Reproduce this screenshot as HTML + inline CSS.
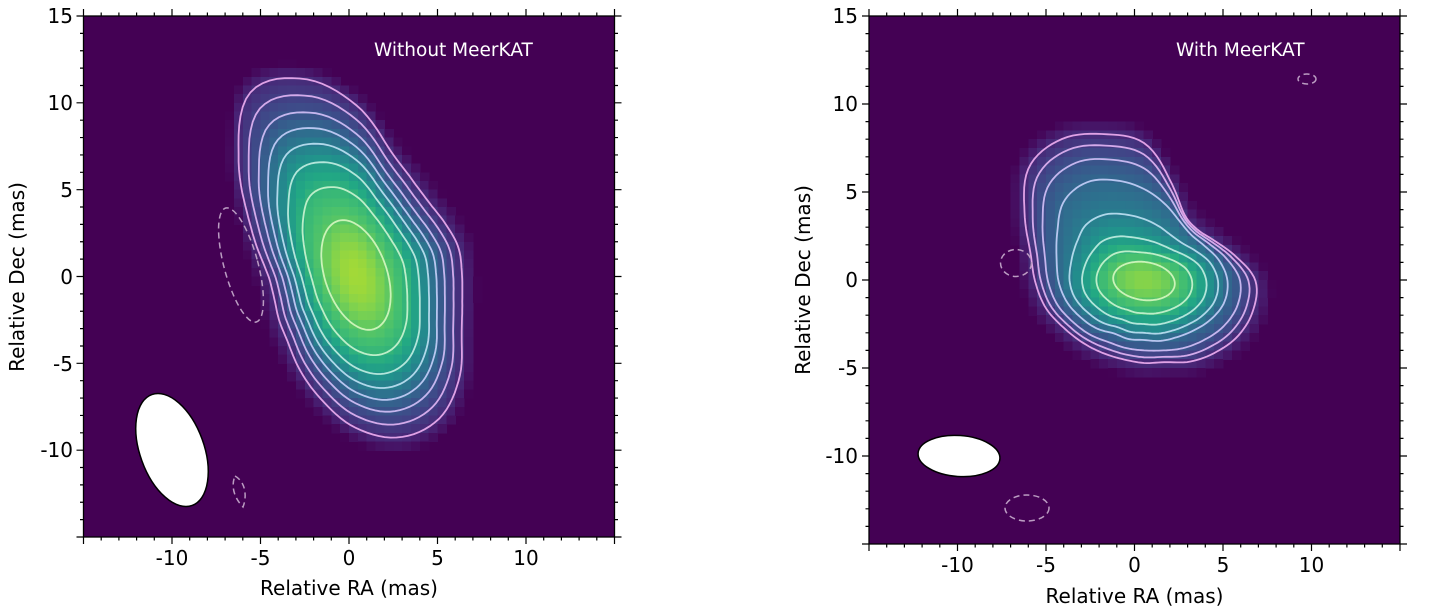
<!DOCTYPE html>
<html><head><meta charset="utf-8">
<style>
html,body{margin:0;padding:0;background:#fff;}
svg{display:block;}
text{font-family:"DejaVu Sans","Liberation Sans",sans-serif;}
</style></head><body>
<svg id="s" width="1432" height="609" viewBox="0 0 1432 609" xmlns="http://www.w3.org/2000/svg">
<defs>
<clipPath id="cl"><rect x="83.5" y="16" width="531" height="521"/></clipPath>
<clipPath id="cr"><rect x="869" y="16" width="531" height="528"/></clipPath>
</defs>
<rect x="83.5" y="16" width="531" height="521" fill="#440154"/>
<rect x="869" y="16" width="531" height="528" fill="#440154"/>
<g id="fb">
  <ellipse cx="356" cy="275" rx="100" ry="175" transform="rotate(-19 356 275)" fill="#472c7a"/>
  <ellipse cx="356" cy="275" rx="65" ry="120" transform="rotate(-19 356 275)" fill="#2a788e"/>
  <ellipse cx="356" cy="275" rx="31" ry="57" transform="rotate(-19 356 275)" fill="#7ad151"/>
  <ellipse cx="1144" cy="260" rx="110" ry="95" fill="#472c7a"/>
  <ellipse cx="1144" cy="281" rx="70" ry="52" fill="#2a788e"/>
  <ellipse cx="1144" cy="281" rx="31" ry="19" fill="#7ad151"/>
</g>
<g id="hl" clip-path="url(#cl)" shape-rendering="crispEdges"></g>
<g id="hr" clip-path="url(#cr)" shape-rendering="crispEdges"></g>
<g id="cnl" clip-path="url(#cl)" fill="none" stroke-width="1.8"></g>
<g id="cnr" clip-path="url(#cr)" fill="none" stroke-width="1.8"></g>

<!-- negative (dashed) contours -->
<g fill="none" stroke="#bb9cc2" stroke-width="1.5" stroke-dasharray="6,4">
  <ellipse cx="241" cy="265" rx="17" ry="59" transform="rotate(-15 241 265)"/>
  <path d="M235,476 C246,482 247,497 243,507 C236,500 230,488 235,476 Z"/>
  <ellipse cx="1016" cy="263" rx="15.5" ry="13.5"/>
  <ellipse cx="1027" cy="508" rx="22" ry="13"/>
  <ellipse cx="1307" cy="79" rx="9" ry="5"/>
</g>

<!-- beams -->
<ellipse cx="172" cy="450" rx="32" ry="59" transform="rotate(-20 172 450)" fill="#fff" stroke="#000" stroke-width="1.5"/>
<ellipse cx="959" cy="456" rx="41" ry="20.5" transform="rotate(4 959 456)" fill="#fff" stroke="#000" stroke-width="1.5"/>

<!-- annotations -->
<text x="374" y="56" font-size="18.5" fill="#fff">Without MeerKAT</text>
<text x="1176" y="56" font-size="18.5" fill="#fff">With MeerKAT</text>

<!-- frames -->
<rect x="83.5" y="16" width="531" height="521" fill="none" stroke="#000" stroke-width="1.3"/>
<rect x="869" y="16" width="531" height="528" fill="none" stroke="#000" stroke-width="1.3"/>
<path id="tk" stroke="#000" stroke-width="1.2" fill="none"/>

<!-- left tick labels -->
<g font-size="20" fill="#000" text-anchor="end">
  <text x="73" y="23">15</text>
  <text x="73" y="110">10</text>
  <text x="73" y="197">5</text>
  <text x="73" y="284">0</text>
  <text x="73" y="371">-5</text>
  <text x="73" y="457">-10</text>
</g>
<g font-size="20" fill="#000" text-anchor="middle">
  <text x="172" y="565">-10</text>
  <text x="260.5" y="565">-5</text>
  <text x="349" y="565">0</text>
  <text x="437.5" y="565">5</text>
  <text x="526" y="565">10</text>
</g>
<text x="349" y="595" font-size="20" text-anchor="middle">Relative RA (mas)</text>
<text transform="translate(24 277) rotate(-90)" font-size="20" text-anchor="middle">Relative Dec (mas)</text>

<!-- right tick labels -->
<g font-size="20" fill="#000" text-anchor="end">
  <text x="858" y="23">15</text>
  <text x="858" y="111">10</text>
  <text x="858" y="199">5</text>
  <text x="858" y="287">0</text>
  <text x="858" y="375">-5</text>
  <text x="858" y="463">-10</text>
</g>
<g font-size="20" fill="#000" text-anchor="middle">
  <text x="957.5" y="572">-10</text>
  <text x="1046" y="572">-5</text>
  <text x="1134.5" y="572">0</text>
  <text x="1223" y="572">5</text>
  <text x="1311.5" y="572">10</text>
</g>
<text x="1134.5" y="603" font-size="20" text-anchor="middle">Relative RA (mas)</text>
<text transform="translate(810 280) rotate(-90)" font-size="20" text-anchor="middle">Relative Dec (mas)</text>
</svg>
<script>
(function(){
var NS="http://www.w3.org/2000/svg";
var VC=[[68,1,84],[72,36,117],[65,68,135],[53,95,141],[42,120,142],[33,145,140],[34,168,132],[68,191,112],[122,209,81],[189,223,38],[253,231,37]];
function vir(t){t=Math.max(0,Math.min(1,t));var x=t*10,i=Math.min(9,Math.floor(x)),f=x-i,a=VC[i],b=VC[i+1];
 return "rgb("+Math.round(a[0]+(b[0]-a[0])*f)+","+Math.round(a[1]+(b[1]-a[1])*f)+","+Math.round(a[2]+(b[2]-a[2])*f)+")";}
function cr(tab,ang){var a=((ang%360)+360)%360,n=tab.length,st=360/n,x=a/st,i=Math.floor(x),f=x-i;
 var p0=tab[(i-1+n)%n],p1=tab[i%n],p2=tab[(i+1)%n],p3=tab[(i+2)%n];
 return 0.5*((2*p1)+(-p0+p2)*f+(2*p0-5*p1+4*p2-p3)*f*f+(-p0+3*p1-3*p2+p3)*f*f*f);}
function ell(a,b,tilt,ang){var p=(ang-tilt)*Math.PI/180;return 1/Math.sqrt(Math.pow(Math.cos(p)/a,2)+Math.pow(Math.sin(p)/b,2));}
var TL=[0.12,0.18,0.25,0.33,0.42,0.53,0.65,0.74,0.86];
var SL=[0,0.235,0.41,0.54,0.65,0.76,0.88,1];
var LOUT=[106,110,122,146,166,168,153,130,111,96,89,85,88,102,126,166,211,203,170,130,111,103,103,106];
var ROUT=[111.5,113,109,101,93,84,82,81,83,87,93,102,109,118,138,162,164,152,138,103,79,74,81,95];
var RMID=[83.5,83,77,70,65,62,59,60,60.5,67,73,80,85.5,90.5,100,113,114,104,92,80,70,66,70,78];
var SE=[0.33,0.6,0.82],ST=[0.12,0.30,0.58];
var P=[
 {cx:356,cy:275,peak:0.86,X0:83.5,Y0:16,sx:17.7,sy:521/30,g:"hl",c:"cnl",
  radii:function(a){var ri=ell(57,31,71,a),ro=cr(LOUT,a);return SL.map(function(s){return ri+s*(ro-ri);});}},
 {cx:1144,cy:281,peak:0.82,X0:869,Y0:16,sx:17.7,sy:528/30,g:"hr",c:"cnr",
  radii:function(a){var ri=ell(31,19,8,a),rm=cr(RMID,a),ro=cr(ROUT,a);
   var c=Math.cos((a-258)*Math.PI/180),w=c>0?Math.pow(c,1.5):0;
   var s=[0,1,2].map(function(i){return SE[i]+(ST[i]-SE[i])*w;});
   return [ri,ri+s[0]*(rm-ri),ri+s[1]*(rm-ri),ri+s[2]*(rm-ri),rm,rm+0.45*(ro-rm),rm+0.75*(ro-rm),ro];}}
];
var CC=["#cbf3b8","#bdeec8","#b3e6da","#b0d8ea","#b8c6f0","#c6b6ee","#d4aaea","#e0a2e6"];
function Lval(r,R){if(r>=R[7])return -(r-R[7])/16;if(r<=R[0])return 7+(1-Math.pow(r/R[0],2));
 for(var k=1;k<8;k++){if(r<=R[k])return (7-k)+(R[k]-r)/(R[k]-R[k-1]);}return 0;}
function tval(L,pk){if(L<0)return Math.max(0,TL[0]*(1+L));if(L>=8)return pk;var i=Math.floor(L),f=L-i,b=(i+1>=8)?pk:TL[i+1];return TL[i]+(b-TL[i])*f;}
P.forEach(function(p){
 var g=document.getElementById(p.g);
 for(var i=0;i<60;i++){for(var j=0;j<60;j++){
  var mx0=-15+0.5*i,my0=15-0.5*j;
  var x0=p.X0+(mx0+15)*p.sx,x1=p.X0+(mx0+15.5)*p.sx;
  var y0=p.Y0+(15-my0)*p.sy,y1=p.Y0+(15.5-my0)*p.sy;
  var px=(x0+x1)/2,py=(y0+y1)/2,dx=px-p.cx,dy=py-p.cy;
  var r=Math.sqrt(dx*dx+dy*dy),a=Math.atan2(dy,dx)*180/Math.PI;
  var t=tval(Lval(r,p.radii(a)),p.peak);
  if(t<0.004)continue;
  var e=document.createElementNS(NS,"rect");
  e.setAttribute("x",x0.toFixed(2));e.setAttribute("y",y0.toFixed(2));
  e.setAttribute("width",(x1-x0+0.6).toFixed(2));e.setAttribute("height",(y1-y0+0.6).toFixed(2));
  e.setAttribute("fill",vir(t));g.appendChild(e);
 }}
 var cg=document.getElementById(p.c);
 for(var k=7;k>=0;k--){var pts=[];
  for(var a=0;a<360;a+=2){var R=p.radii(a)[k],rad=a*Math.PI/180;pts.push((p.cx+R*Math.cos(rad)).toFixed(1)+","+(p.cy+R*Math.sin(rad)).toFixed(1));}
  var pa=document.createElementNS(NS,"path");pa.setAttribute("d","M"+pts.join("L")+"Z");pa.setAttribute("stroke",CC[k]);cg.appendChild(pa);}
});
var fb=document.getElementById("fb");fb.parentNode.removeChild(fb);
function ticks(x0,x1,y0,y1,X,Y){var d="";for(var v=-15;v<=15;v++){var L=(v%5===0)?7:3.5,x=X(v),y=Y(v);
 d+="M"+x+","+y1+"v"+L+"M"+x+","+y0+"v"+(-L)+"M"+x0+","+y+"h"+(-L)+"M"+x1+","+y+"h"+L;}return d;}
var d=ticks(83.5,614.5,16,537,function(v){return 83.5+(v+15)*17.7;},function(v){return 16+(15-v)*521/30;});
d+=ticks(869,1400,16,544,function(v){return 869+(v+15)*17.7;},function(v){return 16+(15-v)*17.6;});
document.getElementById("tk").setAttribute("d",d);
})();
</script>
</body></html>
